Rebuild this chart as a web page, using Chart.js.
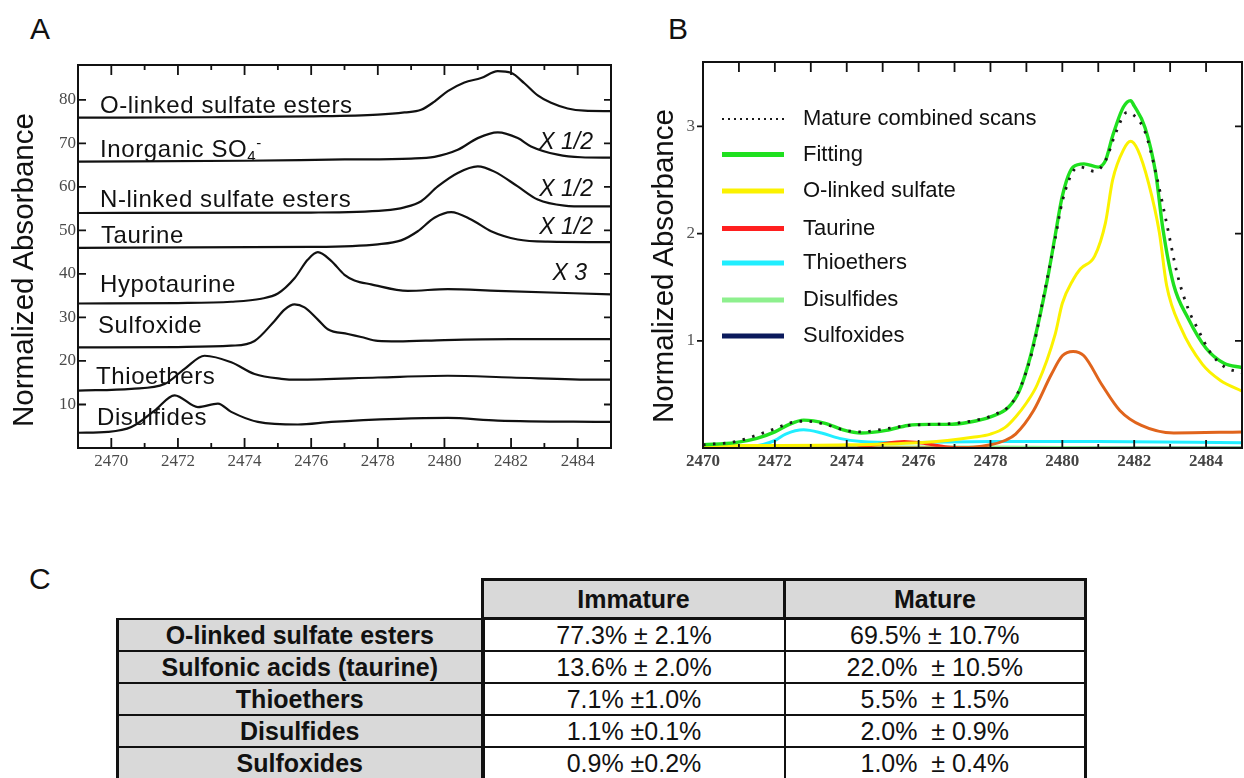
<!DOCTYPE html>
<html>
<head>
<meta charset="utf-8">
<script src="https://cdn.jsdelivr.net/npm/chart.js@4.4.0/dist/chart.umd.min.js"></script>
<style>
  body { margin:0; background:#fff; width:1244px; height:778px; overflow:hidden; position:relative;
         font-family:"Liberation Sans", Arial, sans-serif; color:#111; }
  canvas { position:absolute; top:0; }
  #chartA { left:0; }
  #chartB { left:640px; }
  .panel { position:absolute; font-size:30px; line-height:30px; }
  .lbl { position:absolute; white-space:nowrap; font-size:24px; line-height:24px; letter-spacing:0.6px; }
  .lbl sub { font-size:15px; vertical-align:-4px; line-height:0; }
  .lbl sup { font-size:15px; vertical-align:9px; line-height:0; }
  .scale { position:absolute; white-space:nowrap; font-size:23px; line-height:23px; font-style:italic; }
  .ytitle { position:absolute; width:340px; height:30px; line-height:30px; font-size:29.6px; text-align:center;
            transform:rotate(-90deg); white-space:nowrap; }
  #tbl { position:absolute; left:116px; top:578px; border-collapse:collapse; table-layout:fixed;
         font-family:"Liberation Sans", Arial, sans-serif; font-size:25px; }
  #tbl td { padding:0; text-align:center; white-space:pre; height:30px; line-height:28px; border:2px solid #111; }
  #tbl td.head { background:#d9d9d9; font-weight:bold; height:36px; border:3px solid #111; }
  #tbl td.blank { border:none; background:none; }
  #tbl td.row { background:#d9d9d9; font-weight:bold; border-left:3px solid #111; border-right:4px solid #111; }
  #tbl td.last { border-right:3px solid #111; }
</style>
</head>
<body>
<div class="panel" style="left:30px; top:14px;">A</div>
<div class="panel" style="left:668px; top:14px;">B</div>
<div class="panel" style="left:29px; top:564px;">C</div>

<canvas id="chartA" width="640" height="480"></canvas>
<canvas id="chartB" width="604" height="480"></canvas>

<div class="ytitle" style="left:-147px; top:255px;">Normalized Absorbance</div>
<div class="ytitle" style="left:493px; top:251px;">Normalized Absorbance</div>

<div class="lbl" style="left:100px; top:93px;">O-linked sulfate esters</div>
<div class="lbl" style="left:100px; top:137px;">Inorganic SO<sub>4</sub><sup>-</sup></div>
<div class="lbl" style="left:100px; top:187px;">N-linked sulfate esters</div>
<div class="lbl" style="left:101px; top:223px;">Taurine</div>
<div class="lbl" style="left:100px; top:272px;">Hypotaurine</div>
<div class="lbl" style="left:98px; top:313px;">Sulfoxide</div>
<div class="lbl" style="left:96px; top:364px;">Thioethers</div>
<div class="lbl" style="left:97px; top:405px;">Disulfides</div>

<div class="scale" style="right:651px; top:130px;">X 1/2</div>
<div class="scale" style="right:651px; top:177px;">X 1/2</div>
<div class="scale" style="right:651px; top:215px;">X 1/2</div>
<div class="scale" style="right:657px; top:261px;">X 3</div>

<table id="tbl">
  <colgroup><col style="width:365px"><col style="width:302px"><col style="width:301px"></colgroup>
</table>

<script>
// ---- panel A: reference spectra (energy eV, offset absorbance) ----
var oLinkedA = [[2469,75.9],[2473,76.0],[2476,76.2],[2478,76.6],[2478.8,77.1],[2479.3,77.7],[2479.7,79.6],[2480.1,82.0],[2480.6,84.0],[2481.1,85.0],[2481.6,86.6],[2482.0,86.2],[2482.4,83.8],[2482.8,81.0],[2483.2,79.3],[2483.7,78.0],[2484.2,77.5],[2485,77.4]];
var inorganicA = [[2469,65.8],[2474,66.0],[2477,66.3],[2479,66.5],[2479.7,66.9],[2480.4,68.5],[2481.0,71.2],[2481.6,72.5],[2482.2,71.2],[2482.6,69.3],[2483.4,67.4],[2484.1,66.8],[2485,66.7]];
var nLinkedA = [[2469,54.0],[2476,54.1],[2478.2,54.6],[2478.8,55.3],[2479.3,56.7],[2479.8,60.1],[2480.4,63.2],[2481.0,64.7],[2481.5,63.5],[2482.2,60.1],[2482.8,57.1],[2483.6,55.7],[2484.3,55.5],[2485,55.5]];
var taurineA = [[2469,46.0],[2476,46.2],[2478,46.8],[2478.7,47.7],[2479.2,49.8],[2479.7,52.9],[2480.2,54.2],[2480.8,52.5],[2481.4,49.8],[2482.2,47.9],[2483.1,47.4],[2485,47.3]];
var hypotaurineA = [[2469,33.2],[2472,33.3],[2473.6,33.6],[2474.5,34.3],[2475.0,35.5],[2475.5,39.0],[2475.9,43.3],[2476.2,45.0],[2476.6,43.0],[2477.0,39.8],[2477.3,38.5],[2477.8,37.6],[2478.9,36.1],[2480.1,36.5],[2481.6,36.1],[2485,35.3]];
var sulfoxideA = [[2469,23.1],[2472,23.2],[2473.6,23.5],[2474.3,24.6],[2474.9,29.2],[2475.2,31.8],[2475.5,33.0],[2475.8,32.3],[2476.2,29.5],[2476.5,27.3],[2477.1,26.2],[2477.5,25.5],[2478.0,24.6],[2478.6,24.5],[2480,24.8],[2482,25.0],[2485,25.0]];
var thioethersA = [[2469,13.2],[2470.6,13.6],[2471.6,14.7],[2472.2,18.2],[2472.8,21.2],[2473.6,19.7],[2474.3,17.0],[2475.1,15.9],[2475.6,15.7],[2478,16.2],[2480.1,16.6],[2482,16.2],[2484.6,15.7],[2485,15.7]];
var disulfidesA = [[2469,3.5],[2469.9,3.7],[2470.6,4.8],[2471.3,8.6],[2471.9,12.1],[2472.6,9.4],[2473.2,10.2],[2473.6,8.3],[2474.4,6.0],[2475.6,5.4],[2476.6,6.0],[2478.6,6.7],[2480.1,6.9],[2481.6,6.3],[2485,6.0]];

var xTicksA = [2470, 2472, 2474, 2476, 2478, 2480, 2482, 2484];
var xMinorA = [2471, 2473, 2475, 2477, 2479, 2481, 2483];
var yTicksA = [10, 20, 30, 40, 50, 60, 70, 80];

// ---- panel B: mature combined scans and fit ----
var matureScans = [[2470,0.03],[2470.9,0.06],[2471.5,0.12],[2472.0,0.18],[2472.5,0.24],[2472.9,0.25],[2473.4,0.22],[2473.9,0.17],[2474.4,0.15],[2475.1,0.18],[2475.7,0.21],[2476.3,0.22],[2477,0.23],[2477.6,0.26],[2478.1,0.31],[2478.6,0.42],[2478.9,0.62],[2479.2,0.95],[2479.5,1.45],[2479.8,1.95],[2480.0,2.3],[2480.3,2.58],[2480.5,2.62],[2480.9,2.58],[2481.2,2.68],[2481.5,2.95],[2481.8,3.13],[2482.0,3.10],[2482.3,2.95],[2482.6,2.57],[2482.9,2.10],[2483.2,1.62],[2483.5,1.30],[2483.8,1.09],[2484.1,0.90],[2484.5,0.76],[2485,0.70]];
var fitting = [[2470,0.03],[2470.9,0.05],[2471.5,0.09],[2472.0,0.15],[2472.4,0.22],[2472.8,0.26],[2473.4,0.23],[2473.9,0.17],[2474.4,0.14],[2475.1,0.165],[2475.7,0.21],[2476.3,0.22],[2476.8,0.22],[2477.4,0.24],[2478.0,0.29],[2478.5,0.38],[2478.8,0.53],[2479.1,0.84],[2479.4,1.27],[2479.6,1.6],[2479.8,1.98],[2480.0,2.35],[2480.3,2.62],[2480.6,2.65],[2481.0,2.62],[2481.2,2.68],[2481.4,2.91],[2481.7,3.18],[2481.9,3.24],[2482.0,3.19],[2482.3,2.99],[2482.6,2.56],[2482.8,2.04],[2483.1,1.52],[2483.5,1.21],[2484.0,0.93],[2484.5,0.79],[2485,0.75]];
var oLinkedFit = [[2470,0.02],[2474,0.03],[2476,0.05],[2476.8,0.07],[2477.5,0.10],[2478.0,0.13],[2478.4,0.19],[2478.7,0.29],[2479.0,0.42],[2479.3,0.59],[2479.8,1.06],[2480.0,1.35],[2480.3,1.57],[2480.5,1.67],[2480.9,1.79],[2481.2,2.10],[2481.4,2.50],[2481.7,2.78],[2481.9,2.86],[2482.1,2.78],[2482.4,2.47],[2482.7,2.01],[2482.9,1.52],[2483.3,1.12],[2483.9,0.78],[2484.4,0.63],[2485,0.53]];
var taurineFit = [[2470,0.0],[2477,0.0],[2478.0,0.03],[2478.4,0.07],[2478.7,0.13],[2479.2,0.35],[2479.7,0.69],[2480.0,0.86],[2480.3,0.90],[2480.6,0.86],[2481.1,0.59],[2481.6,0.35],[2482.2,0.21],[2483.1,0.14],[2485,0.15]];
var redComponent = [[2474.3,0.0],[2475.0,0.04],[2475.6,0.06],[2476.2,0.04],[2476.8,0.01],[2477.5,0.0]];
var thioethersFit = [[2470,0.02],[2471.4,0.02],[2472.0,0.07],[2472.3,0.13],[2472.8,0.17],[2473.3,0.14],[2473.8,0.09],[2474.4,0.06],[2475.5,0.05],[2478,0.06],[2481,0.06],[2485,0.05]];
var disulfidesFit = [[2470,0.01],[2472,0.02],[2474,0.01],[2478,0.01],[2482,0.0],[2485,0.0]];
var sulfoxidesFit = [[2470,0.0],[2475,0.0],[2480,0.0],[2485,0.0]];

var legendNames = ['Mature combined scans', 'Fitting', 'O-linked sulfate', 'Taurine', 'Thioethers', 'Disulfides', 'Sulfoxides'];
var xTicksB = [2470, 2472, 2474, 2476, 2478, 2480, 2482, 2484];
var xMinorB = [2471, 2473, 2475, 2477, 2479, 2481, 2483];
var yTicksB = [1, 2, 3];

// ---- panel C: table ----
var tableRows = ['O-linked sulfate esters', 'Sulfonic acids (taurine)', 'Thioethers', 'Disulfides', 'Sulfoxides'];
var tableHeads = ['Immature', 'Mature'];
var immatureVals = ['77.3% \u00b1 2.1%', '13.6% \u00b1 2.0%', '7.1% \u00b11.0%', '1.1% \u00b10.1%', '0.9% \u00b10.2%'];
var matureVals = ['69.5% \u00b1 10.7%', '22.0%  \u00b1 10.5%', '5.5%  \u00b1 1.5%', '2.0%  \u00b1 0.9%', '1.0%  \u00b1 0.4%'];

function pts(arr) {
  return arr.map(function (p) { return {x: p[0], y: p[1]}; });
}

// box frame plus inward/outward tick marks on all four sides
var frameTicks = {
  id: 'frameTicks',
  afterDatasetsDraw: function (chart, args, o) {
    var ctx = chart.ctx, a = chart.chartArea, x = chart.scales.x, y = chart.scales.y;
    ctx.save();
    ctx.strokeStyle = '#111';
    ctx.lineWidth = o.tickWidth;
    ctx.beginPath();
    o.xMajor.forEach(function (v) {
      var px = x.getPixelForValue(v);
      ctx.moveTo(px, a.top); ctx.lineTo(px, a.top + o.topMajor);
      ctx.moveTo(px, a.bottom); ctx.lineTo(px, a.bottom - o.bottomMajor);
    });
    o.xMinor.forEach(function (v) {
      var px = x.getPixelForValue(v);
      ctx.moveTo(px, a.top); ctx.lineTo(px, a.top + o.topMinor);
      ctx.moveTo(px, a.bottom); ctx.lineTo(px, a.bottom - o.bottomMinor);
    });
    o.yMajor.forEach(function (v) {
      var py = y.getPixelForValue(v);
      ctx.moveTo(a.left, py); ctx.lineTo(a.left + o.left, py);
      ctx.moveTo(a.right, py); ctx.lineTo(a.right - o.right, py);
    });
    ctx.stroke();
    ctx.lineWidth = o.frameWidth;
    ctx.strokeRect(a.left, a.top, a.right - a.left, a.bottom - a.top);
    ctx.restore();
  }
};

var insideLegend = {
  id: 'insideLegend',
  afterDraw: function (chart, args, o) {
    var ctx = chart.ctx, k = 0;
    ctx.save();
    ctx.font = o.font;
    ctx.textBaseline = 'middle';
    chart.data.datasets.forEach(function (ds) {
      if (!ds.legendColor) return;
      var yy = o.rows[k];
      ctx.beginPath();
      ctx.strokeStyle = ds.legendColor;
      ctx.lineWidth = ds.borderDash ? 2.2 : 5;
      ctx.setLineDash(ds.borderDash ? [2, 4] : []);
      ctx.moveTo(o.lineX0, yy); ctx.lineTo(o.lineX1, yy);
      ctx.stroke();
      ctx.setLineDash([]);
      ctx.fillStyle = '#111';
      ctx.fillText(legendNames[k], o.textX, yy);
      k++;
    });
    ctx.restore();
  }
};

Chart.defaults.font.family = '"Liberation Sans", Arial, sans-serif';

function lineA(arr) {
  return {data: pts(arr), borderColor: '#111', borderWidth: 2.2, pointRadius: 0,
          cubicInterpolationMode: 'monotone', fill: false};
}

var ctxA = document.getElementById('chartA');
var chartA = new Chart(ctxA, {
  type: 'line',
  data: {
    datasets: [oLinkedA, inorganicA, nLinkedA, taurineA, hypotaurineA, sulfoxideA, thioethersA, disulfidesA].map(lineA)
  },
  options: {
    responsive: false,
    devicePixelRatio: 1,
    animation: false,
    layout: {padding: {left: 0, top: 65, right: 29, bottom: 0}},
    plugins: {
      legend: {display: false},
      tooltip: {enabled: false},
      frameTicks: {xMajor: xTicksA, xMinor: xMinorA, yMajor: yTicksA, topMajor: 10, topMinor: 5,
                   bottomMajor: 10, bottomMinor: 5, left: 8, right: 7, tickWidth: 1.8, frameWidth: 2}
    },
    scales: {
      x: {
        type: 'linear', min: 2469, max: 2485,
        grid: {display: false, drawTicks: false}, border: {display: false},
        afterBuildTicks: function (s) { s.ticks = xTicksA.map(function (v) { return {value: v}; }); },
        afterFit: function (s) { s.height = 32; },
        ticks: {padding: 3, color: '#4a4a4a', maxRotation: 0, autoSkip: false,
                font: {family: '"Liberation Serif", serif', size: 17},
                callback: function (v) { return String(v); }}
      },
      y: {
        type: 'linear', min: 0, max: 88,
        grid: {display: false, drawTicks: false}, border: {display: false},
        afterBuildTicks: function (s) { s.ticks = yTicksA.map(function (v) { return {value: v}; }); },
        afterFit: function (s) { s.width = 78; },
        ticks: {padding: 2, color: '#4a4a4a', font: {family: '"Liberation Serif", serif', size: 17},
                callback: function (v) { return String(v); }}
      }
    }
  },
  plugins: [frameTicks]
});

function lineB(arr, color, legendColor, width) {
  return {data: pts(arr), borderColor: color, legendColor: legendColor, borderWidth: width || 3,
          pointRadius: 0, cubicInterpolationMode: 'monotone', fill: false};
}

var mature = lineB(matureScans, '#1a1a1a', '#1a1a1a', 2.8);
mature.borderDash = [2.5, 7.5];

var ctxB = document.getElementById('chartB');
var chartB = new Chart(ctxB, {
  type: 'line',
  data: {
    datasets: [
      mature,
      lineB(fitting, '#1fe01f', '#1fe01f', 3.4),
      lineB(oLinkedFit, '#fbf200', '#fbf200'),
      lineB(taurineFit, '#e0641c', '#ff1f1f'),
      lineB(redComponent, '#ff2a1a', null),
      lineB(thioethersFit, '#20eeff', '#20eeff'),
      lineB(disulfidesFit, '#8ef08e', '#8ef08e'),
      lineB(sulfoxidesFit, '#0b1a5c', '#0b1a5c')
    ]
  },
  options: {
    responsive: false,
    devicePixelRatio: 1,
    animation: false,
    layout: {padding: {left: 0, top: 62, right: 2, bottom: 0}},
    plugins: {
      legend: {display: false},
      tooltip: {enabled: false},
      frameTicks: {xMajor: xTicksB, xMinor: xMinorB, yMajor: yTicksB, topMajor: 10, topMinor: 10,
                   bottomMajor: 8, bottomMinor: 4, left: -6, right: 7, tickWidth: 1.8, frameWidth: 2},
      insideLegend: {rows: [119, 154.5, 191, 228.5, 263, 300, 336], lineX0: 82, lineX1: 144, textX: 163,
                     font: '22px "Liberation Sans", Arial, sans-serif'}
    },
    scales: {
      x: {
        type: 'linear', min: 2470, max: 2485,
        grid: {display: false, drawTicks: false}, border: {display: false},
        afterBuildTicks: function (s) { s.ticks = xTicksB.map(function (v) { return {value: v}; }); },
        afterFit: function (s) { s.height = 32; },
        ticks: {padding: 3, color: '#444', maxRotation: 0, autoSkip: false,
                font: {family: '"Liberation Serif", serif', size: 17, weight: 'bold'},
                callback: function (v) { return String(v); }}
      },
      y: {
        type: 'linear', min: 0, max: 3.6,
        grid: {display: false, drawTicks: false}, border: {display: false},
        afterBuildTicks: function (s) { s.ticks = yTicksB.map(function (v) { return {value: v}; }); },
        afterFit: function (s) { s.width = 63; },
        ticks: {padding: 8, color: '#555', font: {family: '"Liberation Serif", serif', size: 17},
                callback: function (v) { return String(v); }}
      }
    }
  },
  plugins: [frameTicks, insideLegend]
});

// table C built from the arrays
var tbl = document.getElementById('tbl');
var head = document.createElement('tr');
head.innerHTML = '<td class="blank"></td>' + tableHeads.map(function (h) { return '<td class="head">' + h + '</td>'; }).join('');
tbl.appendChild(head);
tableRows.forEach(function (name, i) {
  var tr = document.createElement('tr');
  tr.innerHTML = '<td class="row">' + name + '</td><td>' + immatureVals[i] + '</td><td class="last">' + matureVals[i] + '</td>';
  tbl.appendChild(tr);
});
</script>
</body>
</html>
